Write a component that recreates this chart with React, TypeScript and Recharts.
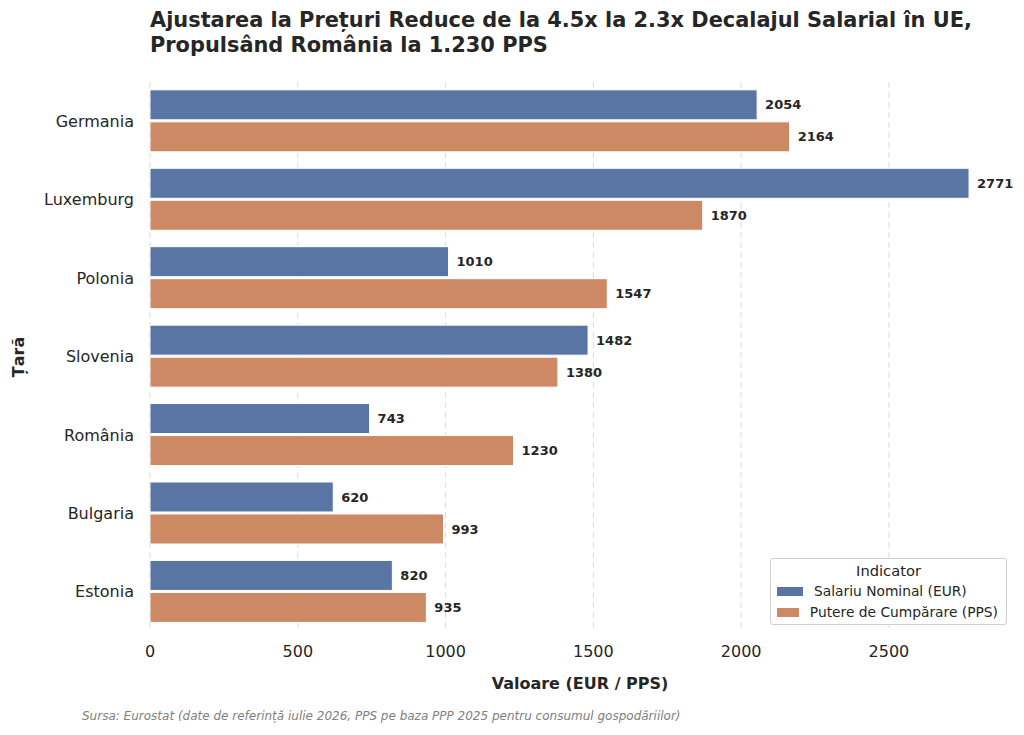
import React from 'react';
import { BarChart, Bar, XAxis, YAxis, CartesianGrid, LabelList } from 'recharts';

const countries = ['Germania', 'Luxemburg', 'Polonia', 'Slovenia', 'România', 'Bulgaria', 'Estonia'];
const nominal = [2054, 2771, 1010, 1482, 743, 620, 820];
const pps = [2164, 1870, 1547, 1380, 1230, 993, 935];
const xTicks = [0, 500, 1000, 1500, 2000, 2500];
const xMax = 2909.55;

const seriesNames = ['Salariu Nominal (EUR)', 'Putere de Cumpărare (PPS)'];
const colors = ['#5875a4', '#cc8963'];

const data = countries.map((c, i) => ({ country: c, nominal: nominal[i], pps: pps[i] }));

const FONT = '"DejaVu Sans", sans-serif';

const LegendBox = () => (
  <div
    style={{
      position: 'absolute',
      left: 770,
      top: 558,
      width: 237,
      height: 67,
      border: '1px solid #d0d0d0',
      borderRadius: 3,
      background: '#fff',
      padding: '2px 8px 0 8px',
      fontFamily: FONT,
      color: '#262626',
      boxSizing: 'border-box',
      whiteSpace: 'nowrap',
    }}
  >
    <div style={{ textAlign: 'center', fontSize: 14.7, lineHeight: '20px' }}>Indicator</div>
    {seriesNames.map((n, i) => (
      <div key={n} style={{ display: 'flex', alignItems: 'center', fontSize: 13.8, lineHeight: '21px' }}>
        <span style={{ display: 'inline-block', width: 26, height: 9, background: colors[i], marginRight: 11, marginLeft: -2 }} />
        <span>{n}</span>
      </div>
    ))}
  </div>
);

export default function App() {
  return (
    <div style={{ position: 'absolute', left: 0, top: 0, width: 1024, height: 735, background: '#fff', fontFamily: FONT }}>
      <div
        style={{
          position: 'absolute',
          left: 150,
          top: 8,
          fontSize: 20.9,
          fontWeight: 'bold',
          color: '#262626',
          lineHeight: '25px',
          whiteSpace: 'nowrap',
        }}
      >
        Ajustarea la Prețuri Reduce de la 4.5x la 2.3x Decalajul Salarial în UE,
        <br />
        Propulsând România la 1.230 PPS
      </div>
      <BarChart
        width={1024}
        height={735}
        data={data}
        layout="vertical"
        margin={{ top: 82, right: 14, bottom: 0, left: 0 }}
        barCategoryGap="10%"
        barGap={2}
      >
        <CartesianGrid
          horizontal={false}
          stroke="#dcdcdc"
          strokeDasharray="6 4"
          verticalCoordinatesGenerator={({ offset }: any) =>
            xTicks.map((t) => offset.left + (t / xMax) * offset.width)
          }
        />
        <XAxis
          type="number"
          domain={[0, xMax]}
          ticks={xTicks}
          axisLine={false}
          tickLine={false}
          tickMargin={9}
          height={104}
          tick={{ fontSize: 16, fill: '#262626', fontFamily: FONT }}
          allowDataOverflow
        />
        <YAxis
          type="category"
          dataKey="country"
          width={150}
          axisLine={false}
          tickLine={false}
          tickMargin={10}
          tick={{ fontSize: 16, fill: '#262626', fontFamily: FONT }}
        />
        <Bar dataKey="nominal" name={seriesNames[0]} fill={colors[0]} stroke="#fff" strokeWidth={1} isAnimationActive={false}>
          <LabelList dataKey="nominal" position="right" offset={8} style={{ fontSize: 13, fontWeight: 'bold', fill: '#262626', fontFamily: FONT }} />
        </Bar>
        <Bar dataKey="pps" name={seriesNames[1]} fill={colors[1]} stroke="#fff" strokeWidth={1} isAnimationActive={false}>
          <LabelList dataKey="pps" position="right" offset={8} style={{ fontSize: 13, fontWeight: 'bold', fill: '#262626', fontFamily: FONT }} />
        </Bar>
      </BarChart>
      <LegendBox />
      <div
        style={{
          position: 'absolute',
          left: 0,
          width: 1160,
          top: 674,
          textAlign: 'center',
          fontSize: 16,
          fontWeight: 'bold',
          color: '#262626',
        }}
      >
        Valoare (EUR / PPS)
      </div>
      <div
        style={{
          position: 'absolute',
          left: 8,
          top: 357,
          transform: 'translate(0, -50%) rotate(-90deg)',
          transformOrigin: 'center',
          fontSize: 16,
          fontWeight: 'bold',
          color: '#262626',
          width: 20,
          whiteSpace: 'nowrap',
          display: 'flex',
          justifyContent: 'center',
        }}
      >
        Țară
      </div>
      <div
        style={{
          position: 'absolute',
          left: 82,
          top: 709,
          fontSize: 12,
          fontStyle: 'italic',
          color: '#808080',
          whiteSpace: 'nowrap',
        }}
      >
        Sursa: Eurostat (date de referință iulie 2026, PPS pe baza PPP 2025 pentru consumul gospodăriilor)
      </div>
    </div>
  );
}
